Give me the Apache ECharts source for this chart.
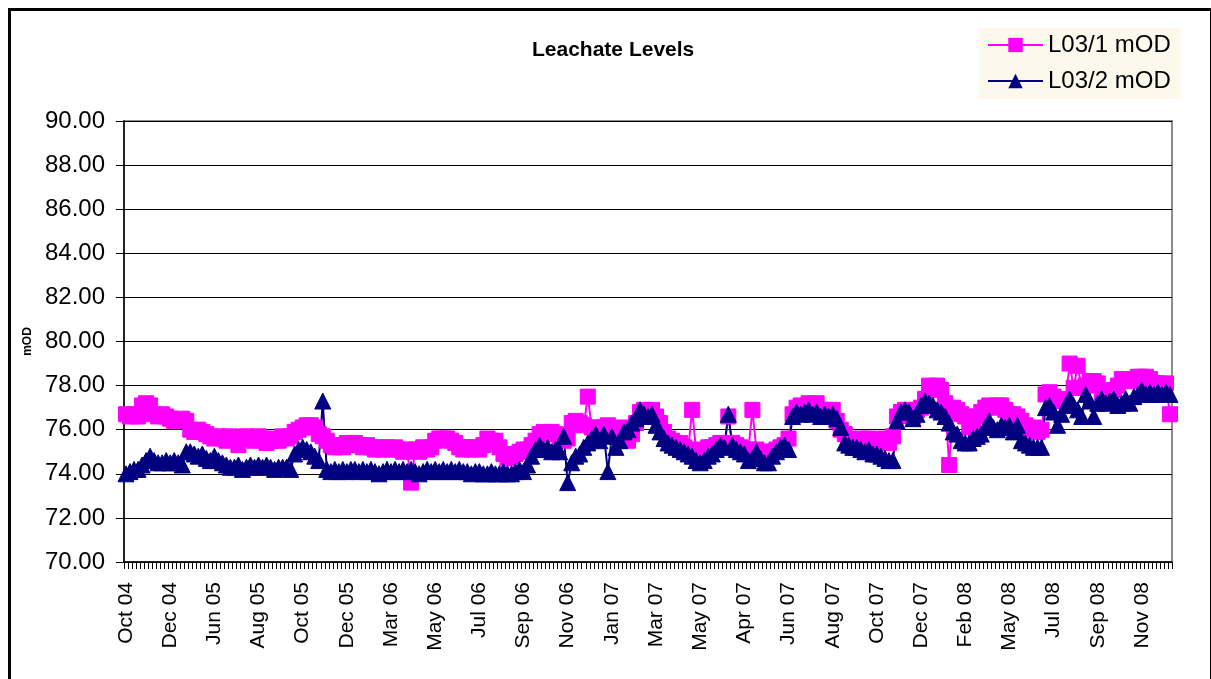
<!DOCTYPE html>
<html>
<head>
<meta charset="utf-8">
<title>Leachate Levels</title>
<script src="https://cdn.jsdelivr.net/npm/echarts@6/dist/echarts.min.js"></script>
<style>
  html, body { margin: 0; padding: 0; background: #ffffff; }
  #chart { width: 1211px; height: 679px; }
</style>
</head>
<body>
<div id="chart"></div>
<script>
// Axis labels shown on the category axis (one every 11 readings)
const tickLabels = ['Oct 04','Dec 04','Jun 05','Aug 05','Oct 05','Dec 05','Mar 06','May 06','Jul 06','Sep 06','Nov 06','Jan 07','Mar 07','May 07','Apr 07','Jun 07','Aug 07','Oct 07','Dec 07','Feb 08','May 08','Jul 08','Sep 08','Nov 08'];
const labelEvery = 11;
const readingCount = 261;

// Leachate level readings, metres above Ordnance Datum
const l031 = [
  76.7, 76.6, 76.7, 76.6, 77.1, 77.2, 77.1, 76.7, 76.6, 76.7,
  76.6, 76.5, 76.4, 76.4, 76.5, 76.4, 76.0, 75.9, 76.0, 75.9,
  75.8, 75.7, 75.6, 75.7, 75.6, 75.5, 75.7, 75.6, 75.3, 75.6,
  75.7, 75.6, 75.5, 75.7, 75.6, 75.4, 75.5, 75.6, 75.5, 75.7,
  75.6, 75.7, 75.9, 76.0, 76.1, 76.2, 76.2, 76.1, 75.8, 75.7,
  75.5, 75.3, 75.2, 75.3, 75.2, 75.4, 75.3, 75.4, 75.3, 75.2,
  75.3, 75.2, 75.1, 75.2, 75.1, 75.2, 75.1, 75.2, 75.1, 75.0,
  75.1, 73.6, 75.1, 75.0, 75.2, 75.1, 75.2, 75.5, 75.6, 75.6,
  75.6, 75.5, 75.4, 75.2, 75.1, 75.2, 75.1, 75.2, 75.1, 75.3,
  75.6, 75.5, 75.5, 75.2, 74.9, 74.7, 74.8, 74.9, 75.0, 75.1,
  75.1, 75.3, 75.5, 75.8, 75.9, 75.8, 75.9, 75.8, 75.6, 75.5,
  75.6, 76.3, 76.4, 76.3, 76.2, 77.5, 76.1, 76.1, 76.0, 76.1,
  76.2, 75.9, 75.8, 76.1, 75.6, 75.5, 75.8, 76.3, 76.8, 76.9,
  76.8, 76.9, 76.6, 76.3, 75.9, 75.6, 75.5, 75.3, 75.4, 75.2,
  75.1, 76.9, 75.0, 75.1, 75.0, 75.2, 75.2, 75.3, 75.4, 75.3,
  76.6, 75.4, 75.3, 75.2, 75.0, 75.1, 76.9, 75.1, 75.0, 75.0,
  74.9, 75.0, 75.1, 75.2, 75.3, 75.6, 76.7, 77.0, 77.1, 77.0,
  77.2, 77.1, 77.2, 76.9, 76.9, 76.8, 76.9, 76.4, 76.0, 75.8,
  75.5, 75.4, 75.5, 75.6, 75.5, 75.6, 75.5, 75.5, 75.4, 75.6,
  75.4, 75.7, 76.6, 76.8, 76.9, 76.8, 76.6, 76.9, 77.0, 77.4,
  78.0, 77.9, 78.0, 77.8, 77.2, 74.4, 77.0, 76.9, 76.7, 76.6,
  76.1, 76.3, 76.6, 76.8, 77.0, 77.1, 77.0, 77.1, 77.1, 76.9,
  76.7, 76.7, 76.6, 76.4, 76.2, 76.0, 76.1, 75.9, 76.0, 77.6,
  77.7, 77.5, 77.4, 77.3, 77.3, 79.0, 77.9, 78.9, 77.9, 78.0,
  78.2, 78.2, 78.1, 77.7, 77.6, 77.7, 77.8, 78.0, 78.3, 78.3,
  78.2, 78.3, 78.4, 78.4, 78.4, 78.3, 78.1, 78.1, 78.0, 78.1,
  76.7
];
const l032 = [
  74.0, 74.1, 74.2, 74.2, 74.4, 74.6, 74.8, 74.6, 74.5, 74.5,
  74.6, 74.5, 74.6, 74.5, 74.4, 75.0, 75.0, 74.9, 74.8, 74.9,
  74.7, 74.6, 74.8, 74.6, 74.5, 74.4, 74.3, 74.3, 74.4, 74.2,
  74.3, 74.4, 74.3, 74.4, 74.3, 74.4, 74.3, 74.2, 74.3, 74.3,
  74.3, 74.2, 74.9, 75.1, 75.2, 75.1, 75.0, 74.8, 74.6, 77.3,
  74.2, 74.1, 74.2, 74.1, 74.2, 74.1, 74.2, 74.2, 74.1, 74.2,
  74.1, 74.2, 74.1, 74.0, 74.1, 74.2, 74.1, 74.2, 74.1, 74.2,
  74.1, 74.2, 74.1, 74.0, 74.1, 74.2, 74.1, 74.2, 74.1, 74.2,
  74.1, 74.2, 74.1, 74.2, 74.1, 74.1, 74.0, 74.1, 74.1, 74.0,
  74.0, 74.1, 74.0, 74.0, 74.1, 74.0, 74.0, 74.1, 74.2, 74.1,
  74.4, 74.8, 75.1, 75.3, 75.1, 75.2, 75.0, 75.1, 75.0, 75.7,
  73.6, 74.5, 74.8, 74.9, 75.2, 75.4, 75.6, 75.8, 75.5, 75.8,
  74.1, 75.7, 75.2, 75.5, 75.9, 76.0, 76.3, 76.5, 76.9, 76.7,
  76.6, 76.7, 76.2, 75.9, 75.6, 75.4, 75.3, 75.2, 75.1, 75.0,
  74.9, 74.8, 74.6, 74.5, 74.6, 74.8, 74.9, 75.1, 75.3, 75.2,
  76.7, 75.3, 75.1, 75.0, 74.9, 74.6, 74.7, 75.0, 74.7, 74.5,
  74.5, 74.8, 75.0, 75.2, 75.3, 75.1, 76.6, 76.8, 76.7, 76.8,
  76.9, 76.7, 76.8, 76.6, 76.7, 76.6, 76.7, 76.5, 76.1, 75.4,
  75.3, 75.2, 75.2, 75.1, 75.0, 75.1, 74.9, 74.9, 74.8, 74.7,
  74.6, 74.6, 76.4, 76.8, 76.9, 76.8, 76.5, 76.7, 77.1, 77.3,
  77.2, 77.1, 76.9, 76.8, 76.6, 76.3, 75.9, 75.8, 75.5, 75.4,
  75.4, 75.6, 75.7, 75.8, 76.1, 76.4, 76.1, 76.0, 76.2, 76.1,
  76.2, 75.9, 76.2, 75.5, 75.4, 75.3, 75.2, 75.2, 75.2, 77.0,
  77.1, 76.8, 76.2, 76.7, 77.1, 77.4, 77.1, 76.9, 76.6, 77.6,
  77.3, 76.6, 77.2, 77.4, 77.2, 77.3, 77.4, 77.1, 77.2, 77.4,
  77.2, 77.5, 77.6, 77.8, 77.6, 77.7, 77.6, 77.7, 77.6, 77.7,
  77.6
];

// One category per reading; only every 11th carries a date label
const categories = [];
for (let i = 0; i < readingCount; i++) {
  categories.push(i % labelEvery === 0 ? tickLabels[i / labelEvery] : '');
}

const FONT = '"Liberation Sans", Arial, sans-serif';
const chart = echarts.init(document.getElementById('chart'), null, { renderer: 'canvas' });

chart.setOption({
  animation: false,
  backgroundColor: '#ffffff',
  textStyle: { fontFamily: FONT },
  title: {
    text: 'Leachate Levels',
    left: 527,
    top: 35,
    textStyle: { fontFamily: FONT, fontSize: 21, fontWeight: 'bold', color: '#000000' }
  },
  legend: {
    orient: 'vertical',
    left: 979,
    top: 28,
    padding: [5, 10, 6, 8],
    itemGap: 12,
    itemWidth: 55,
    itemHeight: 18,
    backgroundColor: '#fdf8ec',
    textStyle: { fontFamily: FONT, fontSize: 24, color: '#000000', lineHeight: 24 },
    data: ['L03/1 mOD', 'L03/2 mOD']
  },
  grid: {
    left: 124,
    right: 39,
    top: 121,
    bottom: 117,
    show: true,
    borderColor: '#8c8c8c',
    borderWidth: 2,
    backgroundColor: '#ffffff'
  },
  xAxis: {
    type: 'category',
    data: categories,
    boundaryGap: true,
    axisLine: { show: true, lineStyle: { color: '#000000', width: 1.5 } },
    axisTick: { show: true, interval: 0, alignWithLabel: false, length: 7, lineStyle: { color: '#000000', width: 1 } },
    axisLabel: {
      interval: labelEvery - 1,
      rotate: 90,
      margin: 20,
      fontFamily: FONT,
      fontSize: 21,
      color: '#000000'
    },
    splitLine: { show: false }
  },
  yAxis: {
    type: 'value',
    min: 70,
    max: 90,
    interval: 2,
    name: 'mOD',
    nameLocation: 'middle',
    nameRotate: 90,
    nameGap: 88,
    nameTextStyle: { fontFamily: FONT, fontSize: 12, fontWeight: 'bold', color: '#000000' },
    axisLine: { show: true, lineStyle: { color: '#000000', width: 1.5 } },
    axisTick: { show: true, length: 8, lineStyle: { color: '#000000', width: 1 } },
    axisLabel: {
      margin: 19,
      fontFamily: FONT,
      fontSize: 24,
      color: '#000000',
      formatter: v => v.toFixed(2)
    },
    splitLine: { show: true, lineStyle: { color: '#000000', width: 1 } }
  },
  series: [
    {
      name: 'L03/1 mOD',
      type: 'line',
      data: l031,
      symbol: 'rect',
      symbolSize: 15,
      showAllSymbol: true,
      color: '#ff00ff',
      lineStyle: { color: '#ff00ff', width: 2 },
      itemStyle: { color: '#ff00ff', borderColor: '#ff00ff' }
    },
    {
      name: 'L03/2 mOD',
      type: 'line',
      data: l032,
      symbol: 'triangle',
      symbolSize: [16, 16],
      showAllSymbol: true,
      color: '#000080',
      lineStyle: { color: '#000080', width: 2 },
      itemStyle: { color: '#000080', borderColor: '#000080' }
    }
  ],
  graphic: [
    {
      type: 'rect',
      left: 7,
      top: 7,
      shape: { x: 0, y: 0, width: 1202, height: 700 },
      style: { fill: 'none', stroke: '#000000', lineWidth: 3 },
      silent: true,
      z: 100
    }
  ]
});
</script>
</body>
</html>
